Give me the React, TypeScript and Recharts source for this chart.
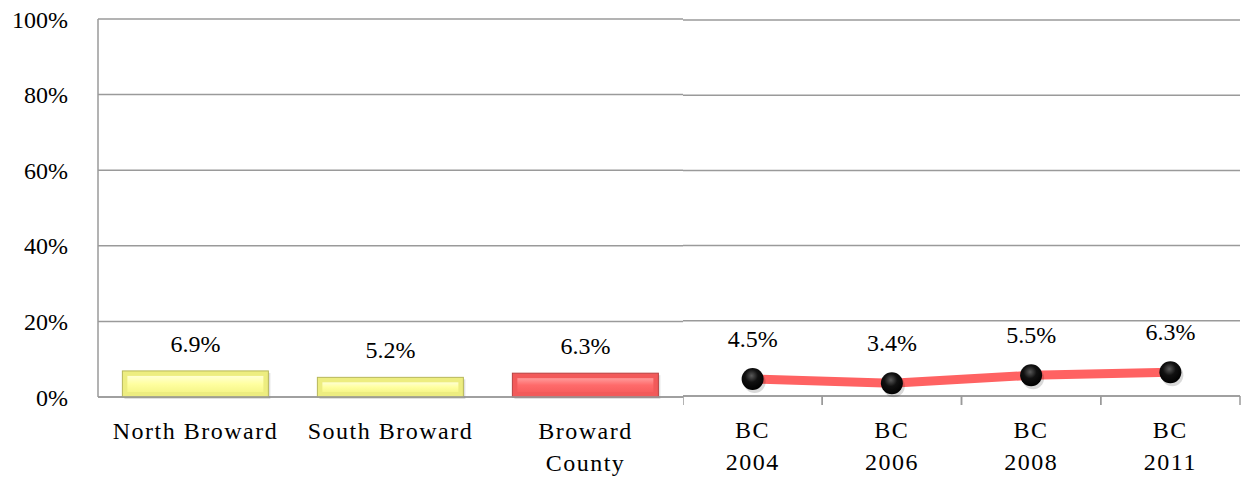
import { Bar, BarChart, CartesianGrid, LabelList, Line, LineChart, XAxis, YAxis } from "recharts";

const regions = ["North Broward", "South Broward", "Broward County"];
const regionTickLines = [["North Broward"], ["South Broward"], ["Broward", "County"]];
const regionRates = [6.9, 5.2, 6.3];
const regionColors = ["yellow", "yellow", "red"];

const years = ["BC 2004", "BC 2006", "BC 2008", "BC 2011"];
const yearTickLines = [["BC", "2004"], ["BC", "2006"], ["BC", "2008"], ["BC", "2011"]];
const yearRates = [4.5, 3.4, 5.5, 6.3];

const yTicks = [0, 20, 40, 60, 80, 100];

const FONT = "'Liberation Serif', 'Times New Roman', serif";
const GRID = "#9a9a9a";

const barData = regions.map((name, i) => ({ name, rate: regionRates[i], color: regionColors[i], lines: regionTickLines[i] }));
const lineData = years.map((name, i) => ({ name, rate: yearRates[i], lines: yearTickLines[i] }));

const pct = (v: number) => `${v}%`;

function BevelBar(props: any) {
  const { x, y, width, height, payload } = props;
  if (!height || height <= 0) return null;
  const red = payload.color === "red";
  const base = red ? "#f25a5a" : "#eded80";
  const edge = red ? "#b84040" : "#b7b75a";
  const inset = Math.min(5, height / 3);
  return (
    <g>
      <rect x={x + 2} y={y + 2} width={width} height={height} fill="#000" opacity={0.12} />
      <rect x={x} y={y} width={width} height={height} fill={base} stroke={edge} strokeWidth={1} />
      <rect
        x={x + inset}
        y={y + inset}
        width={width - inset * 2}
        height={height - inset * 2}
        fill={red ? "url(#redFace)" : "url(#yellowFace)"}
      />
    </g>
  );
}

function MultiTick(props: any) {
  const { x, y, payload, lines, withBounds, band } = props;
  const idx = payload.index ?? 0;
  const rows: string[] = lines[idx] ?? [payload.value];
  return (
    <g>
      {withBounds && (
        <>
          <line x1={x - band / 2} y1={y - 8} x2={x - band / 2} y2={y + 1} stroke={GRID} strokeWidth={1.5} />
          <line x1={x + band / 2} y1={y - 8} x2={x + band / 2} y2={y + 1} stroke={GRID} strokeWidth={1.5} />
        </>
      )}
      {rows.map((r, i) => (
        <text
          key={i}
          x={x}
          y={y + 34 + i * 32}
          textAnchor="middle"
          fontFamily={FONT}
          fontSize={24}
          letterSpacing={1.5}
          fill="#000"
        >
          {r}
        </text>
      ))}
    </g>
  );
}

function BarValue(props: any) {
  const { x, y, width, value } = props;
  return (
    <text x={x + width / 2} y={y - 19} textAnchor="middle" fontFamily={FONT} fontSize={24} fill="#000">
      {pct(value)}
    </text>
  );
}

function LineValue(props: any) {
  const { x, y, value } = props;
  return (
    <text x={x} y={y - 32} textAnchor="middle" fontFamily={FONT} fontSize={24} fill="#000">
      {pct(value)}
    </text>
  );
}

function BlackDot(props: any) {
  const { cx, cy } = props;
  return (
    <g>
      <circle cx={cx + 2} cy={cy + 3} r={11} fill="#000" opacity={0.15} />
      <circle cx={cx} cy={cy} r={11} fill="url(#dotShine)" />
    </g>
  );
}

const LINE_W = 560;
const LINE_MARGIN_R = 3;
const lineBand = (LINE_W - LINE_MARGIN_R) / years.length;

export default function App() {
  return (
    <div style={{ position: "absolute", left: 0, top: 0, width: 1243, height: 482, background: "#fff" }}>
      <div style={{ position: "absolute", left: 0, top: 0 }}>
        <BarChart width={690} height={482} data={barData} margin={{ top: 19, right: 7, bottom: 0, left: 0 }} barCategoryGap="12.5%">
          <defs>
            <linearGradient id="yellowFace" x1="0" y1="0" x2="0" y2="1">
              <stop offset="0%" stopColor="#ffffd2" />
              <stop offset="50%" stopColor="#ffffa0" />
              <stop offset="100%" stopColor="#f6f68a" />
            </linearGradient>
            <linearGradient id="redFace" x1="0" y1="0" x2="0" y2="1">
              <stop offset="0%" stopColor="#ff9a9a" />
              <stop offset="50%" stopColor="#ff6b6b" />
              <stop offset="100%" stopColor="#f85e5e" />
            </linearGradient>
          </defs>
          <CartesianGrid vertical={false} stroke={GRID} strokeWidth={1.5} />
          <XAxis
            dataKey="name"
            height={85}
            axisLine={{ stroke: GRID, strokeWidth: 1.5 }}
            tickLine={false}
            interval={0}
            tick={<MultiTick lines={regionTickLines} />}
          />
          <YAxis
            domain={[0, 100]}
            ticks={yTicks}
            width={98}
            tickFormatter={pct}
            axisLine={{ stroke: GRID, strokeWidth: 1.5 }}
            tickLine={false}
            tickSize={0}
            tickMargin={30}
            tick={{ fontFamily: FONT, fontSize: 24, fill: "#000" }}
          />
          <Bar dataKey="rate" shape={<BevelBar />} isAnimationActive={false}>
            <LabelList dataKey="rate" content={<BarValue />} />
          </Bar>
        </BarChart>
      </div>
      <div style={{ position: "absolute", left: 683, top: 0 }}>
        <LineChart width={LINE_W} height={482} data={lineData} margin={{ top: 20, right: LINE_MARGIN_R, bottom: 0, left: 0 }}>
          <defs>
            <radialGradient id="dotShine" cx="45%" cy="35%" r="65%">
              <stop offset="0%" stopColor="#5a5a5a" />
              <stop offset="45%" stopColor="#111" />
              <stop offset="100%" stopColor="#000" />
            </radialGradient>
          </defs>
          <CartesianGrid vertical={false} stroke={GRID} strokeWidth={1.5} />
          <XAxis
            dataKey="name"
            height={86}
            axisLine={{ stroke: GRID, strokeWidth: 1.5 }}
            tickLine={false}
            interval={0}
            padding={{ left: lineBand / 2, right: lineBand / 2 }}
            tick={<MultiTick lines={yearTickLines} withBounds band={lineBand} />}
          />
          <YAxis hide domain={[0, 100]} ticks={yTicks} />
          <Line
            type="linear"
            dataKey="rate"
            stroke="#ff6262"
            strokeWidth={9}
            dot={<BlackDot />}
            activeDot={false}
            isAnimationActive={false}
          >
            <LabelList dataKey="rate" content={<LineValue />} />
          </Line>
        </LineChart>
      </div>
    </div>
  );
}
